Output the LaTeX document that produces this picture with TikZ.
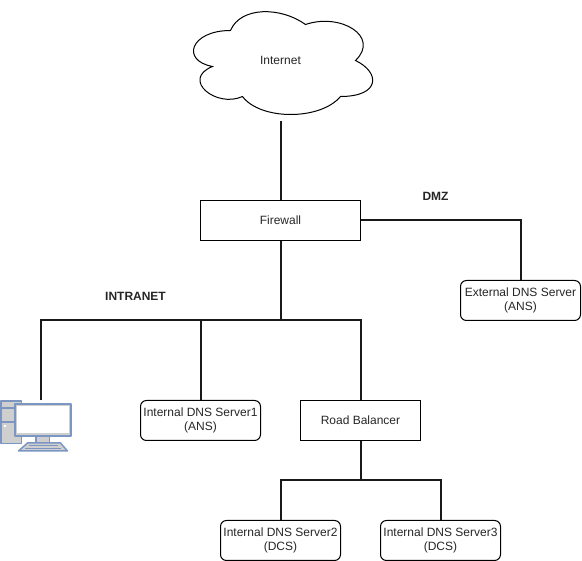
\documentclass[tikz,border=0pt]{standalone}
\usepackage{fontspec}
\setmainfont{Liberation Sans}
\usepackage{xcolor}
\definecolor{pcblue}{HTML}{7C96C4}
\definecolor{pcgrey}{HTML}{CFCFCF}
\tikzset{
 lbl/.style={font=\fontsize{12}{14}\selectfont,text=black!85,align=center,inner sep=0pt},
 boxnode/.style={lbl,draw=black,line width=1pt,minimum width=160pt,minimum height=40pt},
 dnsnode/.style={lbl,draw=black,line width=1pt,rounded corners=6pt,minimum width=120pt,minimum height=40pt},
 wire/.style={line width=2pt,black!90},
 pcpart/.style={draw=pcblue,fill=pcgrey,line width=1.5pt,line join=round}
}
\begin{document}
\begin{tikzpicture}[x=1pt,y=-1pt]
 \useasboundingbox (-0.5,-0.5) rectangle (581.5,560.5);
 % cloud
 \draw[line width=1pt,fill=white] (230,30)
  .. controls (190,30) and (180,60) .. (212,66)
  .. controls (180,79) and (216,108) .. (242,96)
  .. controls (260,120) and (320,120) .. (340,96)
  .. controls (380,96) and (380,72) .. (355,60)
  .. controls (380,36) and (340,12) .. (305,24)
  .. controls (280,6) and (240,6) .. (230,30) -- cycle;
 \node[lbl,minimum width=200pt,minimum height=120pt] (internet) at (280,60) {Internet};
 % boxes
 \node[boxnode] (firewall) at (280,220) {Firewall};
 \node[dnsnode] (extdns) at (520,300) {External DNS Server\\(ANS)};
 \node[dnsnode] (intdnsa) at (200,420) {Internal DNS Server1\\(ANS)};
 \node[boxnode,minimum width=120pt] (balancer) at (360,420) {Road Balancer};
 \node[dnsnode] (intdnsb) at (280,540) {Internal DNS Server2\\(DCS)};
 \node[dnsnode] (intdnsc) at (440,540) {Internal DNS Server3\\(DCS)};
 \node[lbl,font=\fontsize{12}{14}\selectfont\bfseries] (dmz) at (435,196) {DMZ};
 \node[lbl,font=\fontsize{12}{14}\selectfont\bfseries] (intranet) at (135,296) {INTRANET};
 % pc
 \draw[pcpart] (0.5,400.5) rectangle (21,443);
 \draw[pcblue,line width=1.5pt] (0.5,407.5) -- (21,407.5) (0.5,421.5) -- (21,421.5);
 \fill[white] (3.5,424.5) rectangle (5.5,426.5);
 \draw[pcpart] (35.5,436) rectangle (49,443);
 \draw[pcpart] (27,442.5) -- (60,442.5) -- (67,450.5) -- (18,450.5) -- cycle;
 \draw[pcblue,line width=1pt] (28,445.5) -- (57,445.5) (25,448) -- (60,448);
 \draw[pcpart] (14.5,403.5) rectangle (70.5,435.5);
 \fill[white] (17,406) rectangle (68,433);
 \coordinate (pc) at (40,400);
 % wires
 \coordinate (bus) at (280,320);
 \coordinate (busl) at (40,320);
 \coordinate (busa) at (200,320);
 \coordinate (busr) at (360,320);
 \coordinate (tree) at (360,480);
 \coordinate (treel) at (280,480);
 \coordinate (treer) at (440,480);
 \coordinate (dmzturn) at (520,220);
 \draw[wire] (internet.south) -- (firewall.north);
 \draw[wire] (firewall.east) -- (dmzturn) -- (extdns.north);
 \draw[wire] (firewall.south) -- (bus);
 \draw[wire] (pc) -- (busl) -- (busr) -- (balancer.north);
 \draw[wire] (busa) -- (intdnsa.north);
 \draw[wire] (balancer.south) -- (tree);
 \draw[wire] (intdnsb.north) -- (treel) -- (treer) -- (intdnsc.north);
\end{tikzpicture}
\end{document}
